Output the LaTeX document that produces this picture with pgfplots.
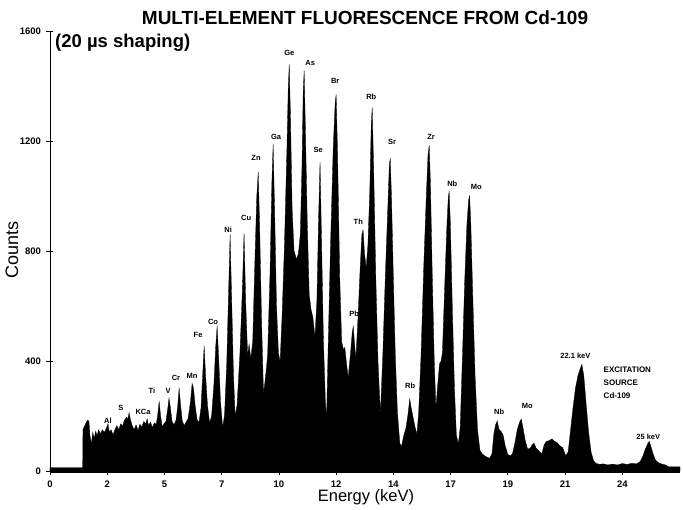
\documentclass[border=0pt]{standalone}
\usepackage{fontspec}
\setmainfont{Liberation Sans}
\usepackage{pgfplots}
\pgfplotsset{compat=1.18}
\begin{document}
\begin{tikzpicture}
\useasboundingbox (-50pt,-38pt) rectangle (633pt,471pt);
\begin{axis}[
  at={(0,0)}, anchor=south west,
  scale only axis, width=630pt, height=440pt,
  xmin=0, xmax=26.2, ymin=0, ymax=1600,
  axis x line=bottom, axis y line=left,
  axis line style={-, black, line width=0.8pt},
  x axis line style={line width=4pt},
  tick align=center, major tick length=7pt,
  tick style={black, line width=0.8pt},
  xtick={0,2.38,4.76,7.14,9.52,11.9,14.28,16.66,19.04,21.42,23.8},
  xticklabels={0,2,5,7,10,12,14,17,19,21,24},
  ytick={0,400,800,1200,1600},
  yticklabels={0,400,800,1200,1600},
  ticklabel style={font=\fontsize{9.5}{11}\selectfont\bfseries},
  yticklabel style={xshift=-2pt},
  xticklabel style={yshift=-3pt},
  clip=false,
]
\addplot[draw=black, fill=black, line width=0.3pt] coordinates {
(0,12) (1.36,12) (1.37,150) (1.42,160) (1.50,175) (1.56,185) (1.62,181) (1.66,130) (1.72,100) (1.78,140) (1.84,118) (1.90,145) (1.96,128) (2.02,150) (2.10,135) (2.18,150) (2.26,140) (2.34,155) (2.41,172) (2.47,140) (2.54,150) (2.62,132) (2.70,150) (2.78,165) (2.86,150) (2.94,172) (3.02,165) (3.10,185) (3.18,195) (3.24,190) (3.29,212) (3.35,185) (3.42,165) (3.50,150) (3.58,168) (3.66,148) (3.74,170) (3.82,160) (3.90,180) (3.98,172) (4.04,190) (4.10,165) (4.18,178) (4.26,158) (4.34,175) (4.42,170) (4.48,205) (4.54,252) (4.60,200) (4.67,160) (4.74,172) (4.82,180) (4.89,222) (4.95,265) (5.01,228) (5.08,178) (5.16,168) (5.24,185) (5.31,235) (5.37,302) (5.43,240) (5.50,182) (5.58,165) (5.66,178) (5.74,190) (5.84,250) (5.91,318) (5.97,300) (6.04,235) (6.12,185) (6.20,178) (6.28,230) (6.35,350) (6.41,455) (6.47,350) (6.55,238) (6.64,174) (6.72,200) (6.82,320) (6.89,450) (6.95,527) (7.01,420) (7.09,255) (7.18,158) (7.26,205) (7.35,390) (7.43,660) (7.49,860) (7.55,640) (7.63,350) (7.70,199) (7.78,240) (7.90,430) (8.00,660) (8.07,865) (8.14,610) (8.22,420) (8.28,462) (8.35,409) (8.43,470) (8.52,760) (8.60,1000) (8.66,1088) (8.72,880) (8.80,540) (8.88,279) (8.96,340) (9.05,420) (9.15,720) (9.23,1060) (9.28,1188) (9.34,950) (9.42,600) (9.50,430) (9.57,398) (9.65,560) (9.75,820) (9.85,1160) (9.91,1400) (9.95,1478) (10.00,1290) (10.07,950) (10.15,800) (10.25,770) (10.33,790) (10.41,860) (10.48,1110) (10.53,1380) (10.57,1456) (10.62,1250) (10.70,900) (10.78,640) (10.86,586) (10.93,560) (11.02,489) (11.10,620) (11.17,920) (11.23,1123) (11.29,850) (11.37,480) (11.45,260) (11.50,185) (11.56,420) (11.66,800) (11.78,1180) (11.86,1340) (11.90,1369) (11.96,1150) (12.05,700) (12.13,470) (12.21,440) (12.26,450) (12.32,400) (12.40,340) (12.50,430) (12.57,505) (12.61,526) (12.66,470) (12.72,409) (12.80,540) (12.90,740) (12.97,860) (13.02,877) (13.08,790) (13.15,740) (13.22,820) (13.30,1020) (13.36,1260) (13.40,1322) (13.46,1100) (13.55,700) (13.64,400) (13.74,206) (13.84,420) (13.95,720) (14.05,960) (14.11,1110) (14.15,1138) (14.20,1000) (14.28,700) (14.36,420) (14.45,210) (14.55,100) (14.62,90) (14.70,125) (14.80,155) (14.88,200) (14.96,262) (15.02,230) (15.10,195) (15.18,160) (15.26,134) (15.33,210) (15.43,420) (15.55,760) (15.65,1000) (15.72,1150) (15.77,1185) (15.82,1050) (15.90,700) (15.98,400) (16.05,228) (16.12,310) (16.20,390) (16.26,399) (16.32,430) (16.41,660) (16.50,880) (16.56,990) (16.60,1018) (16.65,900) (16.73,600) (16.82,300) (16.90,130) (16.98,98) (17.06,160) (17.15,410) (17.25,700) (17.34,900) (17.41,985) (17.45,1001) (17.50,900) (17.58,640) (17.68,340) (17.78,150) (17.88,75) (17.98,62) (18.08,55) (18.18,50) (18.28,46) (18.38,62) (18.46,135) (18.53,168) (18.60,182) (18.67,152) (18.75,145) (18.84,132) (18.93,92) (19.03,62) (19.13,54) (19.23,62) (19.33,100) (19.43,150) (19.53,178) (19.60,189) (19.67,158) (19.76,112) (19.86,80) (19.96,82) (20.06,96) (20.13,101) (20.22,82) (20.32,75) (20.45,62) (20.55,95) (20.65,108) (20.75,110) (20.88,117) (20.98,108) (21.08,104) (21.20,92) (21.32,85) (21.45,55) (21.55,70) (21.65,150) (21.75,230) (21.85,300) (21.95,345) (22.05,372) (22.12,388) (22.20,345) (22.30,240) (22.40,140) (22.50,70) (22.60,38) (22.70,28) (22.85,24) (23.0,26) (23.2,22) (23.4,25) (23.6,22) (23.8,27) (24.0,24) (24.2,28) (24.4,26) (24.55,35) (24.66,55) (24.76,80) (24.86,100) (24.92,108) (24.98,92) (25.08,62) (25.18,40) (25.30,30) (25.45,25) (25.60,22) (25.72,15) (26.2,15)
} \closedcycle;
\tikzset{lab/.style={font=\fontsize{7.5}{9}\selectfont\bfseries, inner sep=0pt}}
\node[lab] at (axis cs:2.41,181) {Al};
\node[lab] at (axis cs:2.95,228) {S};
\node[lab] at (axis cs:3.87,214) {KCa};
\node[lab] at (axis cs:4.24,290) {Ti};
\node[lab] at (axis cs:4.91,290) {V};
\node[lab] at (axis cs:5.24,337) {Cr};
\node[lab] at (axis cs:5.91,344) {Mn};
\node[lab] at (axis cs:6.16,496) {Fe};
\node[lab] at (axis cs:6.78,543) {Co};
\node[lab] at (axis cs:7.41,876) {Ni};
\node[lab] at (axis cs:8.16,919) {Cu};
\node[lab] at (axis cs:8.57,1140) {Zn};
\node[lab] at (axis cs:9.40,1216) {Ga};
\node[lab] at (axis cs:9.95,1520) {Ge};
\node[lab] at (axis cs:10.82,1484) {As};
\node[lab] at (axis cs:11.15,1166) {Se};
\node[lab] at (axis cs:11.86,1419) {Br};
\node[lab] at (axis cs:12.65,572) {Pb};
\node[lab] at (axis cs:12.82,905) {Th};
\node[lab] at (axis cs:13.36,1361) {Rb};
\node[lab] at (axis cs:14.23,1195) {Sr};
\node[lab] at (axis cs:15.85,1216) {Zr};
\node[lab] at (axis cs:16.73,1046) {Nb};
\node[lab] at (axis cs:17.73,1032) {Mo};
\node[lab] at (axis cs:14.98,311) {Rb};
\node[lab] at (axis cs:18.68,217) {Nb};
\node[lab] at (axis cs:19.85,235) {Mo};
\node[lab] at (axis cs:21.85,418) {22.1 keV};
\node[lab] at (axis cs:24.88,125) {25 keV};
\node[lab, anchor=west, align=left, font=\fontsize{8}{13}\selectfont\bfseries] at (axis cs:23.02,322) {EXCITATION\\SOURCE\\Cd-109};
\end{axis}
\node[font=\fontsize{19}{21}\selectfont\bfseries] at (315pt,453pt) {MULTI-ELEMENT FLUORESCENCE FROM Cd-109};
\node[font=\fontsize{18.5}{20}\selectfont\bfseries, anchor=west, inner sep=0pt] at (5pt,428pt) {(20 µs shaping)};
\node[font=\fontsize{18}{20}\selectfont, rotate=90] at (-38pt,221pt) {Counts};
\node[font=\fontsize{16.5}{18}\selectfont] at (316pt,-26pt) {Energy (keV)};
\end{tikzpicture}
\end{document}
